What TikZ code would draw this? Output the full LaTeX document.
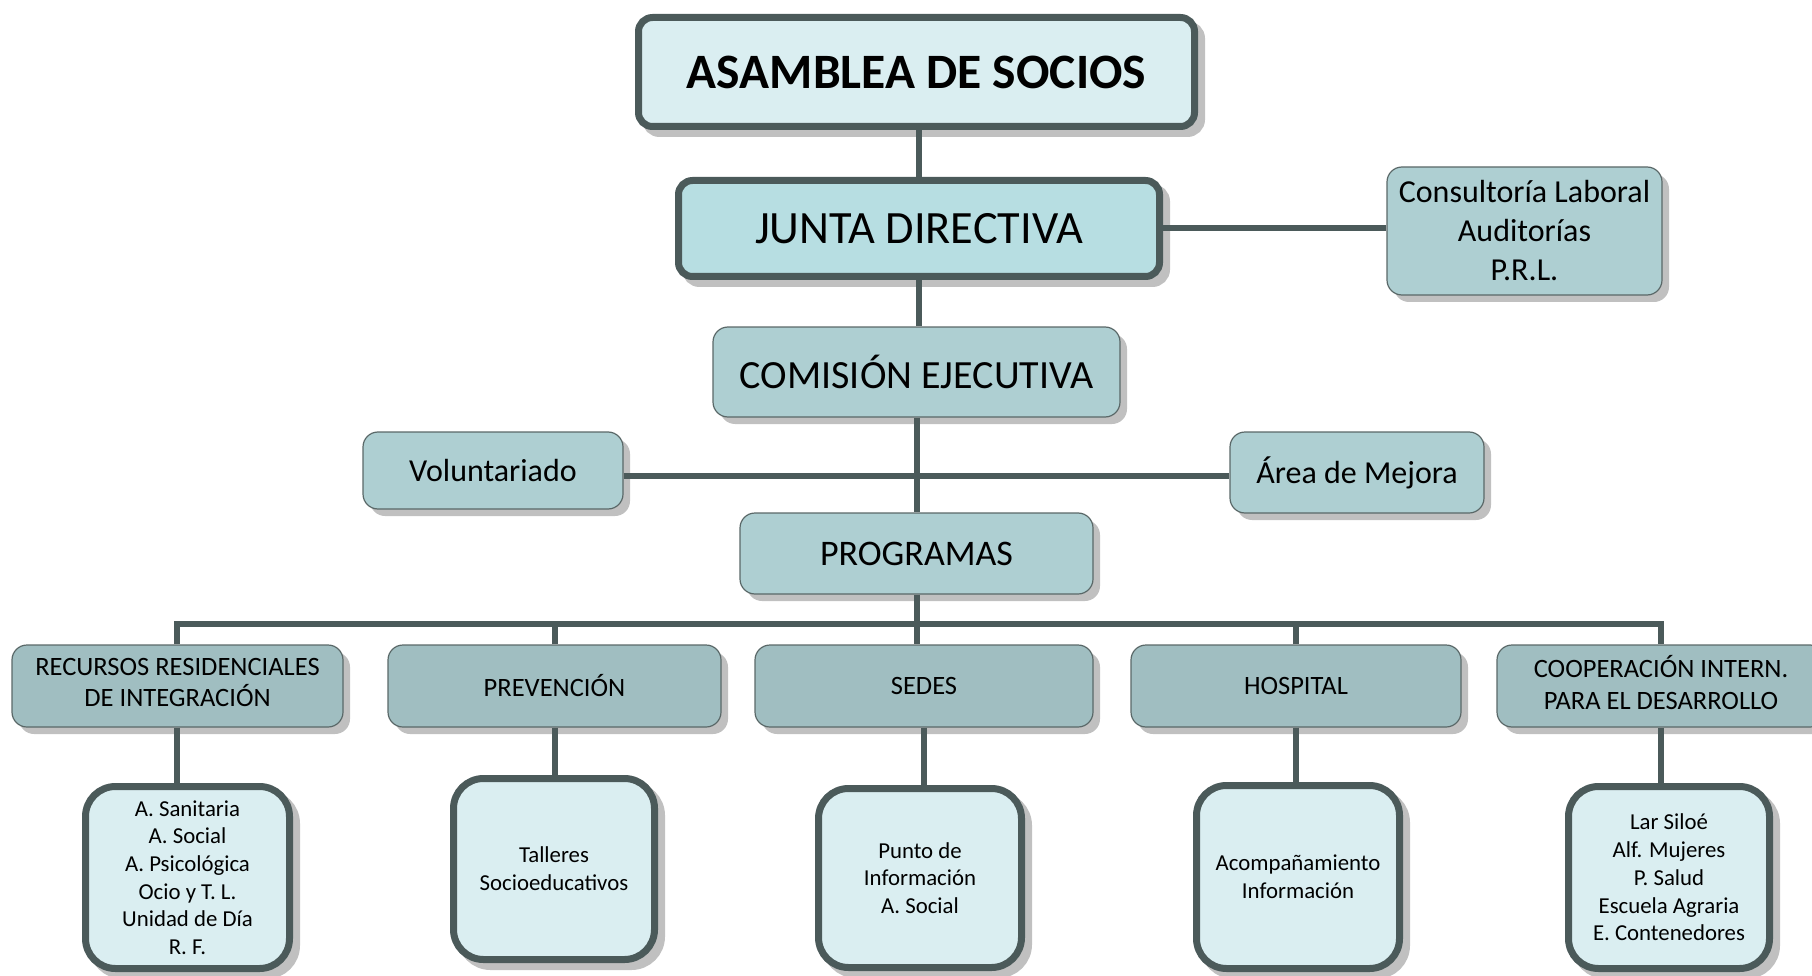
\documentclass[tikz,border=0pt]{standalone}
\usepackage{fontspec}
\setmainfont{Carlito}
\usetikzlibrary{shadows}
\definecolor{edgec}{RGB}{75,90,90}
\definecolor{thinc}{RGB}{90,104,104}
\definecolor{shadc}{RGB}{192,192,192}
\definecolor{lightc}{RGB}{218,238,241}
\definecolor{juntac}{RGB}{183,222,226}
\definecolor{midc}{RGB}{174,207,210}
\definecolor{lvtwoc}{RGB}{160,190,193}
\begin{document}
\begin{tikzpicture}[x=1pt,y=-1pt,
  base/.style={align=center, inner sep=0pt, text=black},
  thickbox/.style={base, draw=edgec, line width=7pt, rounded corners=14pt,
     drop shadow={fill=shadc, draw=shadc, line width=7pt, opacity=1, shadow xshift=7pt, shadow yshift=-7pt}},
  bigbox/.style={thickbox, fill=lightc, rounded corners=30pt},
  thinbox/.style={base, draw=thinc, line width=1.2pt, rounded corners=15pt,
     drop shadow={fill=shadc, opacity=1, shadow xshift=7pt, shadow yshift=-7pt}},
  midbox/.style={thinbox, fill=midc},
  lvbox/.style={thinbox, fill=lvtwoc, minimum width=#1, minimum height=82pt, font=\fontsize{26.5}{31.5}\selectfont},
  conn/.style={draw=edgec, line width=6pt, line join=miter},
  smalltxt/.style={font=\fontsize{22.8}{27.7}\selectfont}
]
\useasboundingbox (0,0) rectangle (1812,976);

% top levels
\node[thickbox, fill=lightc, minimum width=556pt, minimum height=109pt,
      font=\bfseries\fontsize{49.5}{59}\selectfont] (asam) at (916.5,72) {ASAMBLEA DE SOCIOS};
\node[thickbox, fill=juntac, minimum width=481pt, minimum height=96pt,
      font=\fontsize{46.3}{55}\selectfont] (junta) at (919,228.5) {JUNTA DIRECTIVA};
\node[midbox, minimum width=275pt, minimum height=128pt,
      font=\fontsize{32}{39}\selectfont] (cons) at (1524.5,231) {Consultoría Laboral\\Auditorías\\P.R.L.};
\node[midbox, minimum width=407pt, minimum height=90pt,
      font=\fontsize{40}{48}\selectfont] (comi) at (916.5,372) {COMISIÓN EJECUTIVA};
\node[midbox, minimum width=260pt, minimum height=77pt,
      font=\fontsize{32}{39}\selectfont] (vol) at (493,470.5) {Voluntariado};
\node[midbox, minimum width=254pt, minimum height=81pt,
      font=\fontsize{32}{39}\selectfont] (area) at (1357,472.5) {Área de Mejora};
\node[midbox, minimum width=353pt, minimum height=81pt,
      font=\fontsize{36}{43}\selectfont] (prog) at (916.5,553.5) {PROGRAMAS};

% level 2
\node[lvbox=331pt] (rec) at (177.5,686) {RECURSOS RESIDENCIALES\\DE INTEGRACIÓN\hspace*{25pt}\\[-24pt]};
\node[lvbox=333pt] (prev) at (554.5,686) {PREVENCIÓN};
\node[lvbox=338pt] (sedes) at (924,686) {SEDES};
\node[lvbox=330pt] (hosp) at (1296,686) {HOSPITAL};
\node[lvbox=328pt] (coop) at (1661,686) {COOPERACIÓN INTERN.\\PARA EL DESARROLLO\\[-24pt]};

% level 3
\node[bigbox, smalltxt, minimum width=204pt, minimum height=182pt] (b1) at (187.5,877.5)
  {A. Sanitaria\\A. Social\\A. Psicológica\\Ocio y T. L.\\Unidad de Día\\R. F.};
\node[bigbox, smalltxt, minimum width=201pt, minimum height=181pt] (b2) at (554,869)
  {Talleres\\Socioeducativos};
\node[bigbox, smalltxt, minimum width=203pt, minimum height=179pt] (b3) at (920,878)
  {Punto de\\Información\\A. Social};
\node[bigbox, smalltxt, minimum width=203pt, minimum height=183pt] (b4) at (1298,877)
  {Acompañamiento\\Información};
\node[bigbox, smalltxt, minimum width=201pt, minimum height=182pt] (b5) at (1669,877.5)
  {Lar Siloé\\Alf. Mujeres\\P. Salud\\Escuela Agraria\\E. Contenedores};

% connectors
\coordinate (hl) at (917,476);
\coordinate (busL) at (177,624);
\coordinate (busR) at (1661,624);
\coordinate (trunk) at (917,624);

\draw[conn] (junta.north) -- (junta.north |- asam.south);
\draw[conn] (junta.east) -- (junta.east -| cons.west);
\draw[conn] (junta.south) -- (junta.south |- comi.north);
\draw[conn] (comi.south -| trunk) -- (prog.north -| trunk);
\draw[conn] (vol.east |- hl) -- (area.west |- hl);
\draw[conn] (prog.south -| trunk) -- (sedes.north -| trunk);
\draw[conn] (rec.north -| busL) -- (busL) -- (busR) -- (coop.north -| busR);
\draw[conn] (prev.north) -- (prev.north |- busL);
\draw[conn] (hosp.north) -- (hosp.north |- busL);

\draw[conn] (rec.south -| busL) -- (b1.north -| busL);
\draw[conn] (prev.south) -- (prev.south |- b2.north);
\draw[conn] (sedes.south) -- (sedes.south |- b3.north);
\draw[conn] (hosp.south) -- (hosp.south |- b4.north);
\draw[conn] (coop.south) -- (coop.south |- b5.north);
\end{tikzpicture}
\end{document}
